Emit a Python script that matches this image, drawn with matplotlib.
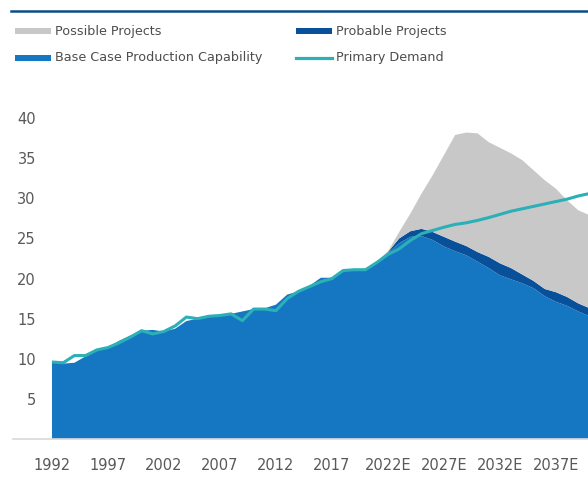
import numpy as np
import matplotlib
matplotlib.use("Agg")
import matplotlib.pyplot as plt
from matplotlib.patches import Rectangle
from matplotlib.lines import Line2D

# ── Data ────────────────────────────────────────────────────────
years = list(range(1992, 2041))

base_case = [
    9.7, 9.4, 9.5, 10.3, 11.2, 11.4, 12.25, 12.9, 13.5, 13.6,      # 1992-2001
    13.4, 13.75, 14.7, 15.0, 15.3, 15.4, 15.6, 15.9, 16.2, 16.3,   # 2002-2011
    16.75, 18.0, 18.4, 19.1, 20.1, 20.1, 21.1, 21.2, 21.1, 22.1,   # 2012-2021
    23.2, 24.4, 25.2, 25.3, 24.8, 24.0, 23.4, 22.9, 22.1, 21.3,    # 2022-2031
    20.4, 19.9, 19.4, 18.8, 17.8, 17.1, 16.6, 15.9, 15.3,          # 2032-2040
]
probable = [0.0] * 30 + [
    0.1, 0.6, 0.7, 0.9, 1.0, 1.2, 1.2, 1.15, 1.2, 1.4,
    1.5, 1.4, 1.1, 0.9, 0.9, 1.2, 1.1, 1.0, 1.0,
]
possible = [0.0] * 30 + [
    0.1, 0.8, 2.2, 4.4, 7.1, 10.2, 13.3, 14.15, 14.8, 14.3,
    14.4, 14.3, 14.25, 13.8, 13.55, 12.9, 12.05, 11.6, 11.6,
]
demand = [
    9.6, 9.5, 10.4, 10.4, 11.1, 11.4, 12.0, 12.7, 13.5, 13.1,
    13.4, 14.1, 15.2, 15.0, 15.3, 15.4, 15.6, 14.75, 16.2, 16.2,
    16.0, 17.5, 18.4, 19.0, 19.6, 20.0, 21.0, 21.1, 21.1, 22.0,
    23.0, 23.7, 24.75, 25.6, 26.0, 26.4, 26.75, 26.95, 27.25, 27.6,
    28.0, 28.4, 28.7, 29.0, 29.3, 29.6, 29.9, 30.3, 30.6,
]

tick_years = [1992, 1997, 2002, 2007, 2012, 2017, 2022, 2027, 2032, 2037]
tick_labels = ["1992", "1997", "2002", "2007", "2012", "2017",
               "2022E", "2027E", "2032E", "2037E"]
y_ticks = [5, 10, 15, 20, 25, 30, 35, 40]

# ── Style ───────────────────────────────────────────────────────
C_BASE = "#1577C2"
C_PROB = "#08509A"
C_POSS = "#C8C8C8"
C_DEM = "#2BB0B7"
C_TEXT = "#595959"

plt.rcParams["font.family"] = ["DejaVu Sans"]

W, H = 588, 488
fig = plt.figure(figsize=(W / 100, H / 100), dpi=100)


def px(x, y):
    """pixel (top-left origin) -> figure fraction"""
    return x / W, 1 - y / H


ax = fig.add_axes([13 / W, (H - 439) / H, (W - 13) / W, (439 - 78) / H])

ax.stackplot(years, base_case, probable, possible,
             colors=[C_BASE, C_PROB, C_POSS], linewidth=0)
ax.plot(years, demand, color=C_DEM, linewidth=2.2, solid_capstyle="butt")

ax.set_xlim(1988.52, 2039.86)
ax.set_ylim(0, 45)

for side in ("top", "right", "left"):
    ax.spines[side].set_visible(False)
ax.spines["bottom"].set_color("#D9D9D9")
ax.spines["bottom"].set_linewidth(1.2)

ax.set_xticks(tick_years)
ax.set_xticklabels(tick_labels)
ax.set_yticks(y_ticks)
ax.tick_params(axis="x", length=0, pad=14, labelsize=10.5, labelcolor=C_TEXT)
ax.tick_params(axis="y", length=0, pad=-16.5, labelsize=10.5, labelcolor=C_TEXT)

# top rule
fig.add_artist(Line2D([11 / W, 1.0], [1 - 11 / H] * 2, color="#0D4C8B",
                      linewidth=1.8, transform=fig.transFigure))

# ── Legend (drawn by hand to match placement) ───────────────────
legend_items = [
    ("Possible Projects", C_POSS, "patch", 15, 31),
    ("Probable Projects", C_PROB, "patch", 296, 31),
    ("Base Case Production Capability", C_BASE, "patch", 15, 58),
    ("Primary Demand", C_DEM, "line", 296, 58),
]
for label, color, kind, x0, yc in legend_items:
    if kind == "patch":
        fx, fy = px(x0, yc + 3)
        fig.add_artist(Rectangle((fx, fy), 36 / W, 6 / H, facecolor=color,
                                 edgecolor="none", transform=fig.transFigure))
    else:
        fx0, fy = px(x0, yc)
        fig.add_artist(Line2D([fx0, fx0 + 36 / W], [fy, fy], color=color,
                              linewidth=2.3, transform=fig.transFigure))
    tx, ty = px(x0 + 40, yc)
    fig.text(tx, ty, label, fontsize=9.2, color="#4D4D4D", va="center", ha="left")

fig.savefig("out.png", dpi=100)
